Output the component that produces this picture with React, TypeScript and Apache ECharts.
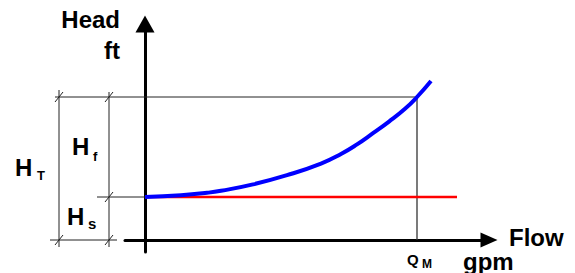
import React, { useEffect, useRef } from "react";
import * as echarts from "echarts";

// System curve (flow units, head units)
const flow = [0, 9, 15.5, 19, 27, 35.5, 44, 49, 53, 57, 61, 65, 68, 71.5];
const head = [21.5, 22.4, 23.6, 24.6, 27.8, 32.4, 38.2, 43, 47.8, 53.4, 59.2, 65.6, 71.5, 79.5];
// Static head line
const staticFlow = [0, 78];
const staticHead = [21.5, 21.5];
// Key values
const Qm = 68;
const Hs = 21.5;
const HT = 71.5;

const FONT = "Liberation Sans, Arial, sans-serif";

export default function App() {
  const ref = useRef<HTMLDivElement>(null);
  useEffect(() => {
    if (!ref.current) return;
    document.body.style.margin = "0";
    const chart = echarts.init(ref.current, undefined, { renderer: "svg" });
    chart.setOption({
      animation: false,
      backgroundColor: "#ffffff",
      grid: { left: 125, right: 86, top: 24, bottom: 21 },
      xAxis: {
        type: "value",
        min: -5,
        max: 86,
        axisLine: {
          onZero: true,
          lineStyle: { color: "#000", width: 3 },
          symbol: ["none", "triangle"],
          symbolSize: [15, 17],
        },
        axisTick: { show: false },
        axisLabel: { show: false },
        splitLine: { show: false },
      },
      yAxis: {
        type: "value",
        min: -6,
        max: 108,
        axisLine: {
          show: true,
          onZero: true,
          lineStyle: { color: "#000", width: 3 },
          symbol: ["none", "triangle"],
          symbolSize: [19, 17],
        },
        axisTick: { show: false },
        axisLabel: { show: false },
        splitLine: { show: false },
      },
      series: [
        {
          type: "line",
          data: staticFlow.map((x, i) => [x, staticHead[i]]),
          symbol: "none",
          lineStyle: { color: "#ff0000", width: 2.5 },
          z: 2,
        },
        {
          type: "line",
          data: flow.map((x, i) => [x, head[i]]),
          smooth: true,
          symbol: "none",
          lineStyle: { color: "#0000ff", width: 4 },
          z: 3,
        },
      ],
    });

    const px = (p: number[]) => chart.convertToPixel({ gridIndex: 0 }, p) as number[];
    const [xQ, yT] = px([Qm, HT]);
    const [x0, y0] = px([0, 0]);
    const yS = px([0, Hs])[1];
    const thin = { stroke: "#222", lineWidth: 1 };
    const line = (x1: number, y1: number, x2: number, y2: number, style: any = thin) => ({
      type: "line",
      shape: { x1, y1, x2, y2 },
      style,
      z: 1,
    });
    const slash = (x: number, y: number) => line(x - 4, y + 5, x + 4, y - 5);
    const text = (t: string, x: number, y: number, size: number, align = "left", weight = "bold") => ({
      type: "text",
      x,
      y,
      style: {
        text: t,
        fill: "#000",
        font: `${weight} ${size}px ${FONT}`,
        align,
        verticalAlign: "middle",
      },
      z: 5,
    });
    const dA = 59;
    const dB = 109;
    chart.setOption({
      graphic: [
        line(55, yT, xQ, yT),
        line(xQ, yT, xQ, y0, { stroke: "#333", lineWidth: 1.3 }),
        line(97, yS, x0, yS),
        line(50, y0, 117, y0),
        line(dA, yT - 7, dA, y0 + 7),
        line(dB, yT - 5, dB, y0 + 7),
        slash(dA, yT),
        slash(dB, yT),
        slash(dB, yS),
        slash(dA, y0),
        slash(dB, y0),
        text("Head", 120, 19, 24, "right"),
        text("ft", 120, 50, 24, "right"),
        text("H", 15, 167, 24),
        text("T", 37, 175, 13),
        text("H", 72, 146.5, 24),
        text("f", 93, 156, 13),
        text("H", 67, 216.5, 24),
        text("s", 88, 223, 15),
        text("Flow", 509, 237, 24),
        text("gpm", 463, 261, 24),
        text("Q", 407, 259, 15),
        text("M", 422, 263.5, 12),
      ],
    });
    return () => chart.dispose();
  }, []);
  return <div ref={ref} style={{ width: 575, height: 273 }} />;
}
